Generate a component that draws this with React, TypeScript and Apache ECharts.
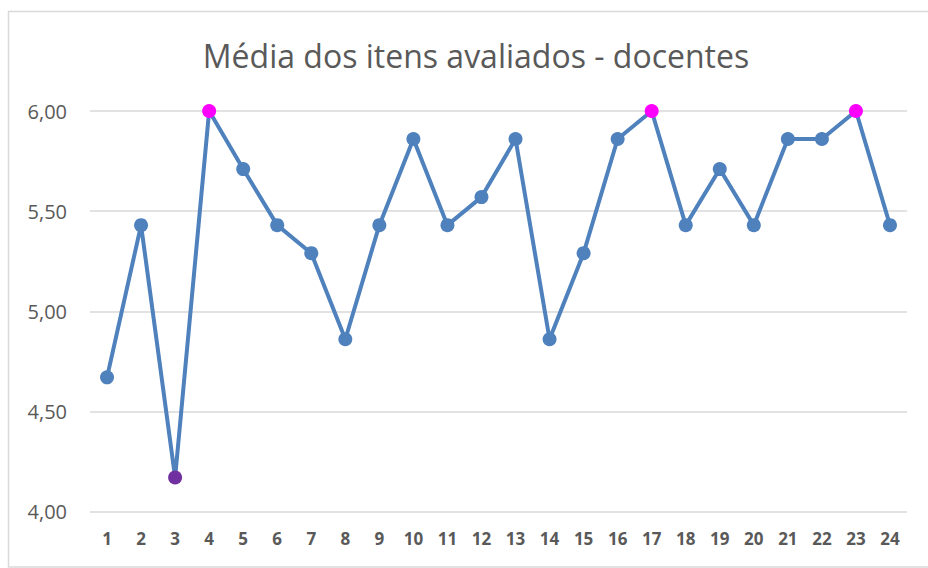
import React, { useEffect, useRef } from "react";
import * as echarts from "echarts";

const categories = ["1","2","3","4","5","6","7","8","9","10","11","12","13","14","15","16","17","18","19","20","21","22","23","24"];
const values = [4.67, 5.43, 4.17, 6.0, 5.71, 5.43, 5.29, 4.86, 5.43, 5.86, 5.43, 5.57, 5.86, 4.86, 5.29, 5.86, 6.0, 5.43, 5.71, 5.43, 5.86, 5.86, 6.0, 5.43];
const pointColors: Record<number, string> = { 2: "#7030A0", 3: "#FF00FF", 16: "#FF00FF", 22: "#FF00FF" };
const titleText = "Média dos itens avaliados - docentes";

export default function App() {
  const ref = useRef<HTMLDivElement>(null);
  useEffect(() => {
    if (!ref.current) return;
    const chart = echarts.init(ref.current, undefined, { renderer: "svg" });
    const font = "Open Sans, Noto Sans, sans-serif";
    chart.setOption({
      animation: false,
      backgroundColor: "#ffffff",
      title: {
        text: titleText,
        left: 471,
        textAlign: "center",
        top: 34,
        textStyle: { fontFamily: font, fontSize: 32, fontWeight: "normal", color: "#595959" },
      },
      graphic: [
        {
          type: "rect",
          shape: { x: 8.5, y: 11.5, width: 940, height: 555.5 },
          style: { fill: "none", stroke: "#d9d9d9", lineWidth: 1.5 },
          silent: true,
        },
      ],
      grid: { left: 90, right: 21, top: 111, bottom: 56.5 },
      xAxis: {
        type: "category",
        data: categories,
        boundaryGap: true,
        axisLine: { show: false },
        axisTick: { show: false },
        axisLabel: { fontFamily: font, fontSize: 17, fontWeight: "bold", color: "#595959", margin: 18 },
        splitLine: { show: false },
      },
      yAxis: {
        type: "value",
        min: 4,
        max: 6,
        interval: 0.5,
        axisLine: { show: false },
        axisTick: { show: false },
        axisLabel: {
          fontFamily: font,
          fontSize: 20,
          color: "#595959",
          margin: 23,
          formatter: (v: number) => v.toFixed(2).replace(".", ","),
        },
        splitLine: { lineStyle: { color: "#d9d9d9", width: 1.5 } },
      },
      series: [
        {
          type: "line",
          data: values.map((v, i) =>
            pointColors[i] ? { value: v, itemStyle: { color: pointColors[i], borderColor: pointColors[i] } } : v
          ),
          symbol: "circle",
          symbolSize: 14,
          lineStyle: { color: "#4F81BD", width: 4 },
          itemStyle: { color: "#4F81BD", borderColor: "#4F81BD", borderWidth: 0 },
        },
      ],
    });
    return () => chart.dispose();
  }, []);
  return <div ref={ref} style={{ position: "fixed", left: 0, top: 0, width: 928, height: 568 }} />;
}
